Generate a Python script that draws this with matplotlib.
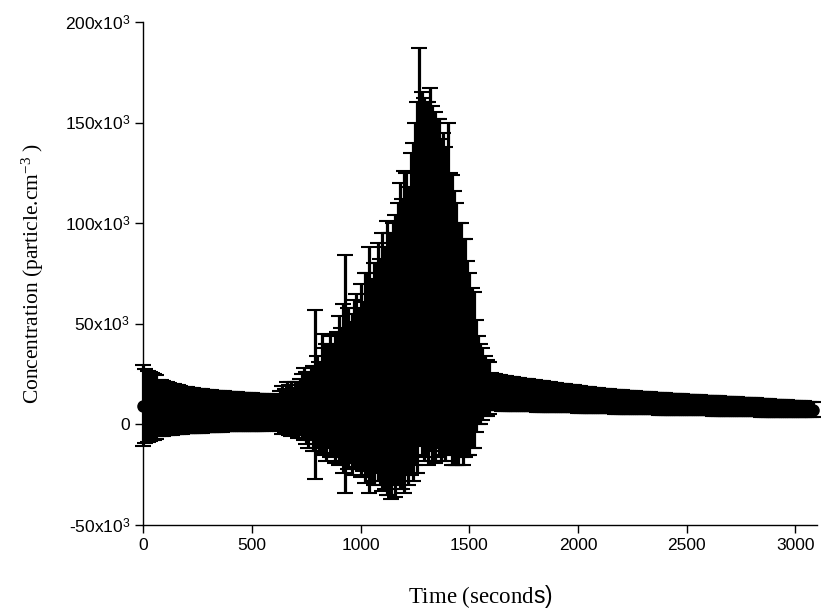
import numpy as np
import matplotlib
matplotlib.use('Agg')
import matplotlib.pyplot as plt

# sampling times (s), one reading every 10 s
time_s = np.arange(0, 3081, 10)

# mean concentration, x10^3 particle/cm3 (one row = 100 s)
conc_mean_k = [
    9.35, 9.0, 8.75, 8.75, 8.75, 8.5, 8.5, 8.0, 8.0, 7.95,
    7.9, 7.8, 7.7, 7.6, 7.5, 7.4, 7.3, 7.2, 7.1, 7.05,
    7.0, 6.95, 6.9, 6.85, 6.8, 6.75, 6.7, 6.65, 6.6, 6.6,
    6.6, 6.55, 6.5, 6.5, 6.45, 6.45, 6.4, 6.4, 6.35, 6.35,
    6.3, 6.3, 6.25, 6.25, 6.2, 6.2, 6.15, 6.15, 6.1, 6.1,
    6.05, 6.05, 6.0, 6.0, 5.95, 5.95, 5.9, 5.9, 5.85, 5.85,
    5.8, 5.8, 6.0, 6.5, 7.0, 6.5, 8.0, 7.0, 7.5, 6.5,
    8.0, 7.0, 8.5, 9.0, 10.0, 8.0, 7.0, 10.0, 8.0, 15.0,
    11, 9, 15, 12, 11, 14, 14, 12, 13, 16,
    17, 15, 18, 25, 18, 16, 15, 20, 22, 18,
    22, 19, 23, 25, 27, 22, 25, 28, 31, 26,
    31, 28, 33, 30, 29, 35, 34, 40, 44, 40,
    46, 50, 44, 55, 56, 65, 68, 88, 75, 72,
    72, 70, 77, 70, 68, 70, 68, 62, 65, 60,
    68, 55, 52, 48, 45, 40, 42, 36, 38, 33,
    30, 28, 27, 24, 22, 20, 20, 19, 18, 18,
    16.25, 16.05, 15.85, 15.75, 15.65, 15.5, 15.4, 15.3, 15.15, 15.1,
    15.05, 14.95, 14.85, 14.75, 14.65, 14.55, 14.45, 14.4, 14.25, 14.2,
    14.1, 14.0, 13.95, 13.85, 13.8, 13.7, 13.6, 13.55, 13.45, 13.4,
    13.25, 13.2, 13.1, 13.05, 12.95, 12.9, 12.8, 12.75, 12.65, 12.6,
    12.4, 12.35, 12.25, 12.2, 12.1, 12.05, 11.95, 11.9, 11.8, 11.75,
    11.6, 11.55, 11.5, 11.45, 11.4, 11.35, 11.3, 11.25, 11.2, 11.15,
    11.05, 11.0, 10.95, 10.9, 10.85, 10.8, 10.75, 10.7, 10.65, 10.6,
    10.55, 10.5, 10.45, 10.4, 10.35, 10.3, 10.25, 10.2, 10.15, 10.1,
    10.1, 10.05, 10.0, 9.95, 9.9, 9.9, 9.85, 9.8, 9.75, 9.7,
    9.7, 9.65, 9.6, 9.55, 9.5, 9.5, 9.45, 9.4, 9.35, 9.3,
    9.3, 9.25, 9.2, 9.15, 9.1, 9.1, 9.05, 9.0, 8.95, 8.9,
    8.9, 8.85, 8.8, 8.75, 8.7, 8.7, 8.65, 8.6, 8.55, 8.5,
    8.5, 8.45, 8.4, 8.35, 8.3, 8.25, 8.2, 8.15, 8.1, 8.05,
    8.05, 8.0, 7.95, 7.9, 7.85, 7.85, 7.8, 7.75, 7.7, 7.65,
    7.65, 7.6, 7.55, 7.5, 7.45, 7.45, 7.4, 7.35, 7.3,
]

# standard deviation, x10^3 particle/cm3
conc_err_k = [
    20.35, 18.5, 17.75, 17.25, 16.75, 16.5, 16.0, 14.0, 13.8, 13.55,
    13.3, 13.1, 12.9, 12.7, 12.5, 12.3, 12.1, 11.9, 11.7, 11.55,
    11.4, 11.3, 11.2, 11.1, 11.0, 10.9, 10.8, 10.7, 10.6, 10.5,
    10.4, 10.35, 10.3, 10.2, 10.15, 10.1, 10.0, 9.95, 9.9, 9.85,
    9.8, 9.75, 9.7, 9.65, 9.6, 9.55, 9.5, 9.45, 9.4, 9.35,
    9.3, 9.25, 9.2, 9.15, 9.1, 9.05, 9.0, 8.95, 8.9, 8.85,
    8.8, 8.8, 9.2, 10.0, 12.0, 11.0, 13.0, 12.5, 13.5, 11.5,
    13.0, 14.0, 14.0, 16.0, 18.0, 18.0, 19.0, 18.0, 21.0, 42.0,
    23, 22, 30, 26, 29, 26, 30, 27, 32, 30,
    37, 33, 42, 59, 40, 35, 40, 42, 43, 40,
    48, 42, 52, 50, 61, 50, 55, 52, 59, 56,
    64, 60, 68, 65, 66, 65, 70, 70, 76, 72,
    80, 75, 74, 80, 84, 85, 92, 99, 90, 90,
    88, 90, 90, 88, 87, 82, 84, 80, 80, 78,
    82, 70, 72, 68, 65, 60, 58, 56, 54, 48,
    45, 40, 39, 28, 22, 20, 18, 15, 14, 13,
    9.25, 9.05, 8.95, 8.85, 8.75, 8.7, 8.6, 8.5, 8.45, 8.4,
    8.35, 8.25, 8.25, 8.15, 8.05, 8.05, 7.95, 7.9, 7.85, 7.8,
    7.7, 7.65, 7.6, 7.55, 7.5, 7.45, 7.4, 7.35, 7.3, 7.2,
    7.15, 7.1, 7.05, 7.0, 6.95, 6.9, 6.85, 6.8, 6.75, 6.7,
    6.6, 6.55, 6.5, 6.45, 6.4, 6.35, 6.3, 6.25, 6.2, 6.15,
    6.2, 6.15, 6.1, 6.05, 6.0, 5.95, 5.9, 5.9, 5.85, 5.8,
    5.85, 5.8, 5.8, 5.75, 5.7, 5.7, 5.65, 5.6, 5.6, 5.55,
    5.55, 5.5, 5.5, 5.45, 5.45, 5.4, 5.35, 5.35, 5.3, 5.3,
    5.3, 5.25, 5.25, 5.2, 5.2, 5.15, 5.15, 5.1, 5.1, 5.05,
    5.1, 5.05, 5.05, 5.0, 5.0, 4.95, 4.95, 4.9, 4.9, 4.9,
    4.9, 4.85, 4.85, 4.8, 4.8, 4.75, 4.75, 4.75, 4.7, 4.7,
    4.7, 4.65, 4.65, 4.6, 4.6, 4.55, 4.55, 4.55, 4.5, 4.5,
    4.5, 4.45, 4.45, 4.4, 4.4, 4.35, 4.35, 4.3, 4.3, 4.25,
    4.25, 4.2, 4.2, 4.15, 4.15, 4.1, 4.1, 4.1, 4.05, 4.05,
    4.05, 4.0, 4.0, 3.95, 3.95, 3.9, 3.9, 3.9, 3.85,
]

y_ticks = [-50000, 0, 50000, 100000, 150000, 200000]
y_tick_labels = [r'-50x10$^{\mathsf{3}}$', '0', r'50x10$^{\mathsf{3}}$', r'100x10$^{\mathsf{3}}$',
                 r'150x10$^{\mathsf{3}}$', r'200x10$^{\mathsf{3}}$']
x_ticks = [0, 500, 1000, 1500, 2000, 2500, 3000]

conc_mean = np.array(conc_mean_k) * 1000
conc_err = np.array(conc_err_k) * 1000

plt.rcParams['mathtext.fontset'] = 'custom'
plt.rcParams['mathtext.rm'] = 'Liberation Serif'
plt.rcParams['mathtext.it'] = 'Liberation Serif:italic'
plt.rcParams['mathtext.sf'] = 'Liberation Sans'

fig = plt.figure(figsize=(8.28, 6.09), dpi=100)
ax = fig.add_axes([0.173, 0.138, 0.814, 0.826])

line, caps, bars = ax.errorbar(time_s, conc_mean, yerr=conc_err, fmt='o', color='black',
                               markersize=8, elinewidth=2.3, capsize=5.5, capthick=1.5)
line.set_clip_on(False)
for c in caps:
    c.set_clip_on(False)
for b in bars:
    b.set_clip_on(False)

ax.set_xlim(0, 3100)
ax.set_ylim(-50000, 200000)
ax.set_xticks(x_ticks)
ax.set_xticklabels([str(t) for t in x_ticks], family='Liberation Sans', fontsize=12.5)
ax.set_yticks(y_ticks)
ax.set_yticklabels(y_tick_labels, family='Liberation Sans', fontsize=12.5)
ax.tick_params(direction='out', length=6, width=1)

ax.spines['top'].set_visible(False)
ax.spines['right'].set_visible(False)
for s in ['left', 'bottom']:
    ax.spines[s].set_linewidth(1)

ax.set_xlabel(r'Time (second$\mathsf{s)}$', family='Liberation Serif', fontsize=16.5)
ax.xaxis.set_label_coords(0.5, -0.115)
ax.set_ylabel(r'Concentration (particle.cm$^{-3}$ )', family='Liberation Serif', fontsize=15.5)
ax.yaxis.set_label_coords(-0.145, 0.5)

fig.savefig('out.png', dpi=100)
